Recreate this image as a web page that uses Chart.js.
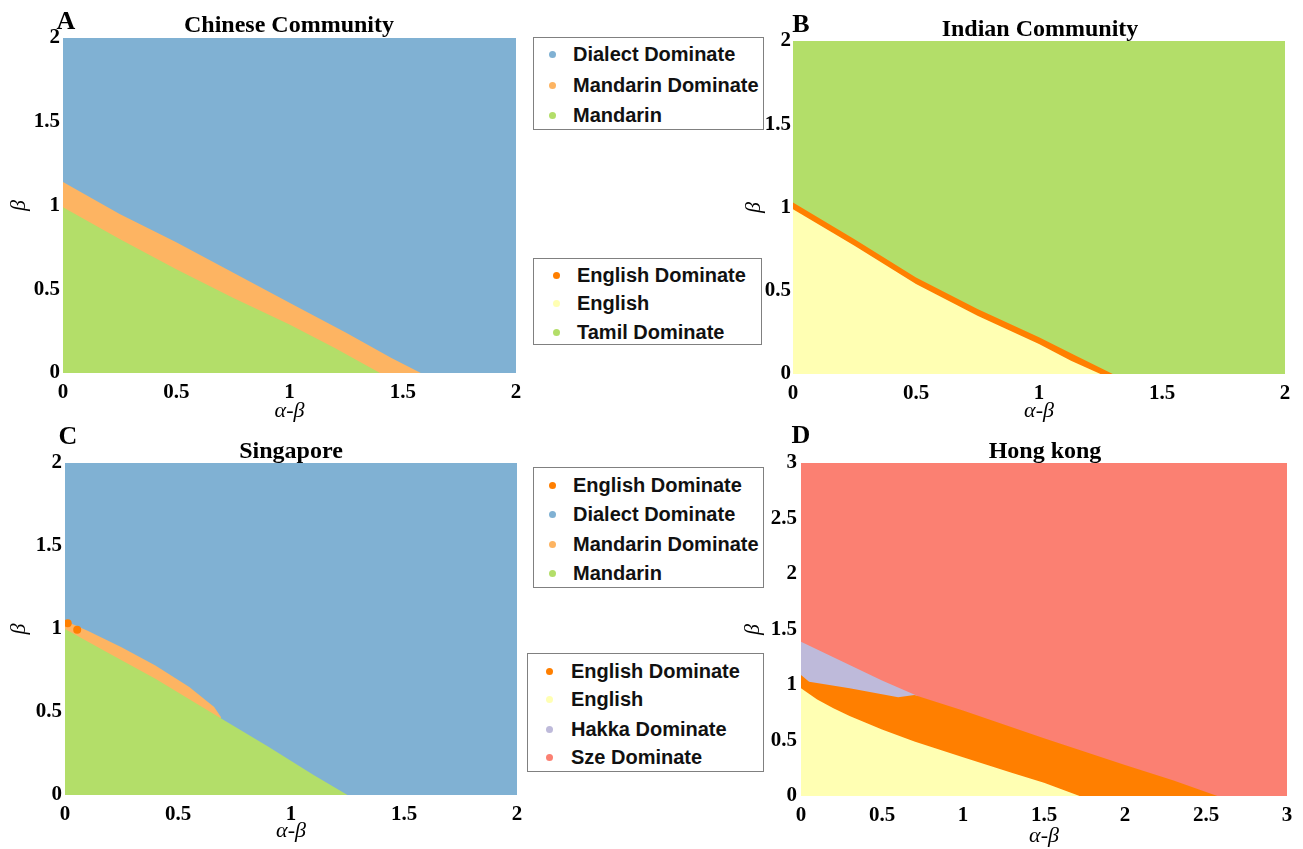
<!DOCTYPE html>
<html>
<head>
<meta charset="utf-8">
<script src="https://cdn.jsdelivr.net/npm/chart.js@4.4.0/dist/chart.umd.min.js"></script>
<style>
  body { margin: 0; background: #fff; width: 1303px; height: 849px; position: relative; overflow: hidden; }
  canvas { position: absolute; }
  .lbl { position: absolute; font-family: 'Liberation Serif', 'Times New Roman', serif; font-weight: bold; line-height: 1; white-space: nowrap; transform: translate(-50%, -50%); color: #000; }
  .legend { position: absolute; border: 1px solid #808080; background: #fff; box-sizing: border-box; }
  .legend .row { position: absolute; font-family: 'Liberation Sans', Arial, sans-serif; font-weight: bold; font-size: 20px; line-height: 24px; white-space: nowrap; color: #111; }
  .legend .dot { position: absolute; width: 7px; height: 7px; border-radius: 50%; }
</style>
</head>
<body>
<canvas id="chartA" width="530" height="425" style="left:0;top:0"></canvas>
<canvas id="chartB" width="563" height="425" style="left:740px;top:0"></canvas>
<canvas id="chartC" width="530" height="424" style="left:0;top:425px"></canvas>
<canvas id="chartD" width="563" height="424" style="left:740px;top:425px"></canvas>

<div class="lbl" style="left:66px;top:21px;font-size:26px">A</div>
<div class="lbl" style="left:289px;top:24px;font-size:24px">Chinese Community</div>
<div class="lbl" style="left:801px;top:24px;font-size:26px">B</div>
<div class="lbl" style="left:1040px;top:28px;font-size:24px">Indian Community</div>
<div class="lbl" style="left:68px;top:436px;font-size:26px">C</div>
<div class="lbl" style="left:291px;top:450px;font-size:24px">Singapore</div>
<div class="lbl" style="left:801px;top:435px;font-size:26px">D</div>
<div class="lbl" style="left:1045px;top:450px;font-size:24px">Hong kong</div>

<div id="legendA" class="legend"></div>
<div id="legendB" class="legend"></div>
<div id="legendC" class="legend"></div>
<div id="legendD" class="legend"></div>

<script>
  // colours of the regions
  const cDialect = '#80B1D3';
  const cMandDom = '#FDB462';
  const cMandarin = '#B3DE69';
  const cEngDom = '#FF7F00';
  const cEnglish = '#FFFFB3';
  const cHakka = '#BEBADA';
  const cSze = '#FB8072';
  const cTamil = '#B3DE69';

  // A - Chinese Community
  const ticks2 = ['0', '0.5', '1', '1.5', '2'];
  const aDialectX = [0, 2];
  const aDialectY = [2, 2];
  const aMandDomX = [0, 0.25, 0.5, 0.75, 1.0, 1.25, 1.45, 1.58];
  const aMandDomY = [1.14, 0.95, 0.78, 0.6, 0.42, 0.24, 0.09, 0];
  const aMandX = [0, 0.25, 0.5, 0.75, 1.0, 1.2, 1.4];
  const aMandY = [0.99, 0.8, 0.62, 0.45, 0.29, 0.15, 0];

  // B - Indian Community
  const bTamilX = [0, 2];
  const bTamilY = [2, 2];
  const bEngDomX = [0, 0.25, 0.5, 0.75, 1.0, 1.15, 1.3];
  const bEngDomY = [1.03, 0.81, 0.58, 0.39, 0.22, 0.11, 0];
  const bEngX = [0, 0.25, 0.5, 0.75, 1.0, 1.13, 1.25];
  const bEngY = [0.99, 0.77, 0.54, 0.35, 0.18, 0.08, 0];

  // C - Singapore
  const cDialectX = [0, 2];
  const cDialectY = [2, 2];
  const cMandDomX = [0, 0.1, 0.25, 0.4, 0.55, 0.66, 0.69];
  const cMandDomY = [1.05, 0.99, 0.89, 0.78, 0.65, 0.53, 0.47];
  const cMandX = [0, 0.2, 0.4, 0.68, 0.9, 1.1, 1.25];
  const cMandY = [1.0, 0.85, 0.7, 0.47, 0.29, 0.12, 0];
  const cEngDotX = [0.012, 0.054];
  const cEngDotY = [1.035, 0.995];

  // D - Hong kong
  const ticks3 = ['0', '0.5', '1', '1.5', '2', '2.5', '3'];
  const dSzeX = [0, 3];
  const dSzeY = [3, 3];
  const dHakkaX = [0, 0.3, 0.5, 0.72];
  const dHakkaY = [1.39, 1.18, 1.04, 0.9];
  const dEngDomX = [0, 0.05, 0.3, 0.6, 0.7, 1.0, 1.5, 2.0, 2.3, 2.57];
  const dEngDomY = [1.09, 1.03, 0.97, 0.89, 0.91, 0.77, 0.52, 0.28, 0.14, 0];
  const dEngX = [0, 0.1, 0.2, 0.3, 0.5, 0.7, 1.0, 1.3, 1.5, 1.72];
  const dEngY = [0.97, 0.87, 0.79, 0.72, 0.6, 0.49, 0.35, 0.21, 0.12, 0];

  // legends
  const legANames = ['Dialect Dominate', 'Mandarin Dominate', 'Mandarin'];
  const legAColors = [cDialect, cMandDom, cMandarin];
  const legBNames = ['English Dominate', 'English', 'Tamil Dominate'];
  const legBColors = [cEngDom, cEnglish, cTamil];
  const legCNames = ['English Dominate', 'Dialect Dominate', 'Mandarin Dominate', 'Mandarin'];
  const legCColors = [cEngDom, cDialect, cMandDom, cMandarin];
  const legDNames = ['English Dominate', 'English', 'Hakka Dominate', 'Sze Dominate'];
  const legDColors = [cEngDom, cEnglish, cHakka, cSze];

  const serif = "'Liberation Serif', 'Times New Roman', serif";
  const tickFont = { family: serif, weight: 'bold', size: 21 };
  const axisFont = { family: serif, style: 'italic', size: 22 };

  function pts(xs, ys) {
    return xs.map((x, i) => ({ x: x, y: ys[i] }));
  }

  function region(label, xs, ys, color) {
    return {
      label: label, data: pts(xs, ys), backgroundColor: color,
      borderColor: 'transparent', borderWidth: 0, pointRadius: 0,
      fill: 'start', tension: 0
    };
  }

  function makePanel(id, geo, xTicks, yTicks, datasets) {
    const xVals = xTicks.map(Number);
    const yVals = yTicks.map(Number);
    new Chart(document.getElementById(id), {
      type: 'line',
      data: { datasets: datasets },
      options: {
        responsive: false,
        animation: false,
        events: [],
        layout: { autoPadding: false, padding: { top: geo.top, right: geo.right, left: 0, bottom: 0 } },
        plugins: { legend: { display: false }, tooltip: { enabled: false } },
        scales: {
          x: {
            type: 'linear', min: xVals[0], max: xVals[xVals.length - 1],
            afterBuildTicks: s => { s.ticks = xVals.map(v => ({ value: v })); },
            afterFit: s => { s.height = geo.xH; },
            grid: { display: false, drawTicks: false },
            border: { display: false },
            ticks: { padding: 7, color: '#000', font: tickFont, maxRotation: 0, autoSkip: false,
                     callback: (v, i) => xTicks[i] },
            title: { display: true, text: 'α-β', color: '#000', font: axisFont,
                     padding: { top: 0, bottom: geo.xTitlePad } }
          },
          y: {
            type: 'linear', min: yVals[0], max: yVals[yVals.length - 1],
            afterBuildTicks: s => { s.ticks = yVals.map(v => ({ value: v })); },
            afterFit: s => { s.width = geo.yW; },
            grid: { display: false, drawTicks: false },
            border: { display: false },
            ticks: { padding: geo.yTickPad, color: '#000', font: tickFont, autoSkip: false,
                     callback: (v, i) => yTicks[i] },
            title: { display: true, text: 'β', color: '#000', font: axisFont,
                     padding: { top: geo.yTitlePad, bottom: 0 } }
          }
        }
      }
    });
  }

  function makeLegend(id, box, rowYs, dotX, textX, names, colors) {
    const el = document.getElementById(id);
    el.style.left = box[0] + 'px';
    el.style.top = box[1] + 'px';
    el.style.width = box[2] + 'px';
    el.style.height = box[3] + 'px';
    names.forEach((name, i) => {
      const dot = document.createElement('span');
      dot.className = 'dot';
      dot.style.background = colors[i];
      dot.style.left = (dotX - box[0] - 4.5) + 'px';
      dot.style.top = (rowYs[i] - box[1] - 4.5) + 'px';
      el.appendChild(dot);
      const row = document.createElement('div');
      row.className = 'row';
      row.textContent = name;
      row.style.left = (textX - box[0] - 1) + 'px';
      row.style.top = (rowYs[i] - box[1] - 13) + 'px';
      el.appendChild(row);
    });
  }

  // smallest region first so it is painted on top
  makePanel('chartA', { top: 38, right: 14, yW: 63, xH: 52, xTitlePad: 1, yTitlePad: 6, yTickPad: 3 },
    ticks2, ticks2, [
      region('Mandarin', aMandX, aMandY, cMandarin),
      region('Mandarin Dominate', aMandDomX, aMandDomY, cMandDom),
      region('Dialect Dominate', aDialectX, aDialectY, cDialect)
    ]);

  makePanel('chartB', { top: 41, right: 18, yW: 53, xH: 51, xTitlePad: 1, yTitlePad: 1, yTickPad: 2 },
    ticks2, ticks2, [
      region('English', bEngX, bEngY, cEnglish),
      region('English Dominate', bEngDomX, bEngDomY, cEngDom),
      region('Tamil Dominate', bTamilX, bTamilY, cTamil)
    ]);

  makePanel('chartC', { top: 38, right: 13, yW: 65, xH: 54, xTitlePad: 5, yTitlePad: 6, yTickPad: 3 },
    ticks2, ticks2, [
      { label: 'English Dominate', data: pts(cEngDotX, cEngDotY), showLine: false, fill: false,
        pointRadius: 4, pointBorderWidth: 0, pointBackgroundColor: cEngDom, borderColor: 'transparent' },
      region('Mandarin', cMandX, cMandY, cMandarin),
      region('Mandarin Dominate', cMandDomX, cMandDomY, cMandDom),
      region('Dialect Dominate', cDialectX, cDialectY, cDialect)
    ]);

  makePanel('chartD', { top: 38, right: 16, yW: 61, xH: 53, xTitlePad: 0, yTitlePad: 0, yTickPad: 4 },
    ticks3, ticks3, [
      region('English', dEngX, dEngY, cEnglish),
      region('English Dominate', dEngDomX, dEngDomY, cEngDom),
      region('Hakka Dominate', dHakkaX, dHakkaY, cHakka),
      region('Sze Dominate', dSzeX, dSzeY, cSze)
    ]);

  makeLegend('legendA', [533, 37, 231, 93], [54, 85, 115], 552, 573, legANames, legAColors);
  makeLegend('legendB', [533, 258, 229, 87], [275, 303, 332], 556, 577, legBNames, legBColors);
  makeLegend('legendC', [533, 467, 231, 121], [485, 514, 544, 573], 552, 573, legCNames, legCColors);
  makeLegend('legendD', [527, 653, 237, 119], [671, 699, 729, 757], 549, 571, legDNames, legDColors);
</script>
</body>
</html>
